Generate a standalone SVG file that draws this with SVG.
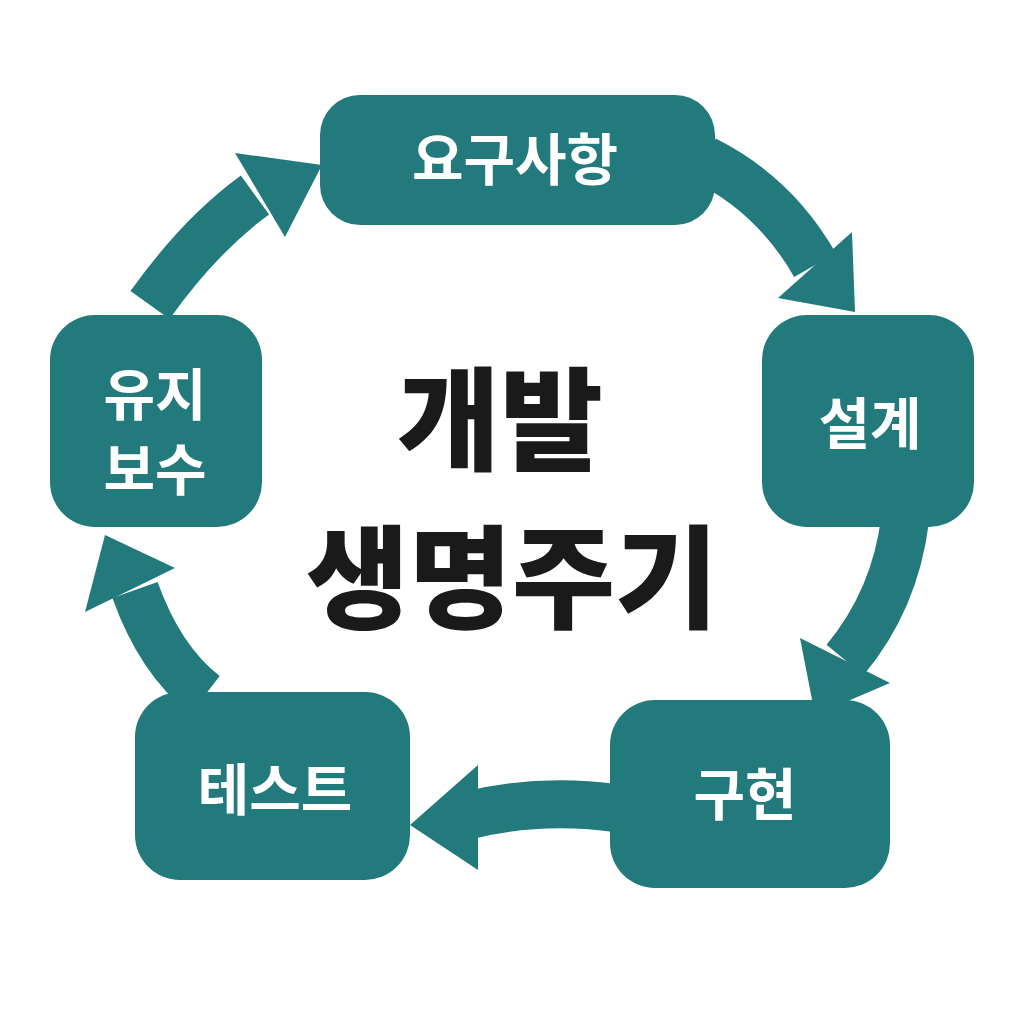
<svg xmlns="http://www.w3.org/2000/svg" width="1024" height="1024" viewBox="0 0 1024 1024">
<style>
.n{fill:#237a7c}
.t{fill:#fff;font-family:"Noto Sans CJK KR","Noto Sans",sans-serif;font-weight:700;font-size:56px;text-anchor:middle}
.c{fill:#1a1a1a;font-family:"Noto Sans CJK KR","Noto Sans",sans-serif;font-weight:900;font-size:112px;text-anchor:middle}
.b{fill:none;stroke:#237a7c;stroke-width:48}
.h{fill:#237a7c}
</style>
<rect width="1024" height="1024" fill="#fff"/>
<g id="connectors">
<path class="b" d="M705,160 Q775,195 815,265"/>
<polygon class="h" points="855,312 778,298 852,232"/>
<path class="b" d="M905,520 Q895,600 845,660"/>
<polygon class="h" points="815,715 890,683 800,638"/>
<path class="b" d="M615,808 Q540,798 470,815"/>
<polygon class="h" points="410,825 478,765 478,870"/>
<path class="b" d="M205,695 Q160,660 135,590"/>
<polygon class="h" points="105,535 175,568 85,612"/>
<path class="b" d="M150,305 Q200,235 255,195"/>
<polygon class="h" points="322,165 285,237 235,153"/>
</g>
<g id="n1"><rect class="n" x="320" y="95" width="395" height="130" rx="40"/><text class="t" x="515" y="180">요구사항</text></g>
<g id="n2"><rect class="n" x="762" y="315" width="212" height="212" rx="45"/><text class="t" x="870" y="444">설계</text></g>
<g id="n3"><rect class="n" x="610" y="700" width="280" height="188" rx="45"/><text class="t" x="745" y="815">구현</text></g>
<g id="n4"><rect class="n" x="135" y="692" width="275" height="188" rx="45"/><text class="t" x="275" y="810">테스트</text></g>
<g id="n5"><rect class="n" x="50" y="315" width="212" height="212" rx="45"/><text class="t" x="155" y="415">유지</text><text class="t" x="155" y="490">보수</text></g>
<g id="center"><text class="c" x="500" y="462">개발</text><text class="c" x="512" y="620">생명주기</text></g>
</svg>
